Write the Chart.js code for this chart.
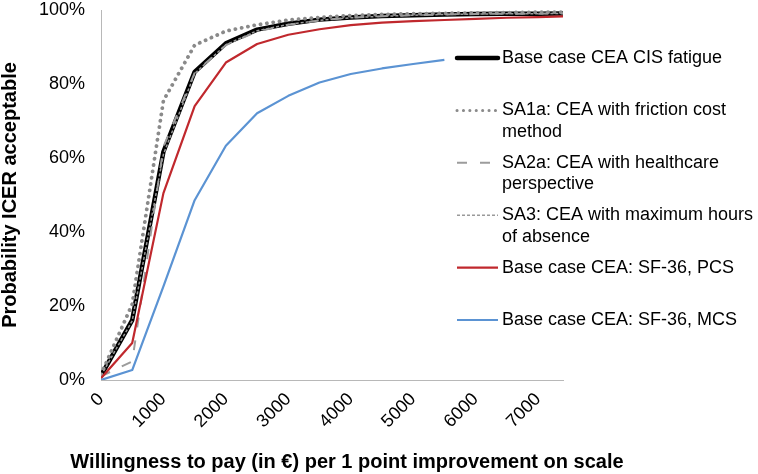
<!DOCTYPE html>
<html>
<head>
<meta charset="utf-8">
<script src="https://cdn.jsdelivr.net/npm/chart.js@4.4.1/dist/chart.umd.min.js"></script>
<style>
  html, body { margin: 0; padding: 0; background: #fff; }
  canvas { display: block; }
</style>
</head>
<body>
<canvas id="ceac" width="758" height="474"></canvas>
<script>
const fontFamily = '"Liberation Sans", Arial, sans-serif'

// willingness to pay (EUR) per 1 point improvement
const wtp = [0, 500, 1000, 1500, 2000, 2500, 3000, 3500, 4000, 4500, 5000, 5500, 6000, 6500, 7000, 7500]
const xTicks = [0, 1000, 2000, 3000, 4000, 5000, 6000, 7000]

// probability ICER acceptable (%)
const baseCIS = [1.2, 16.2, 61.7, 83.3, 91.0, 94.7, 96.3, 97.4, 98.0, 98.4, 98.6, 98.8, 98.9, 99.0, 99.0, 99.1]
const sa1aFriction = [1.5, 20.5, 75.5, 90.5, 94.3, 96.0, 97.3, 98.0, 98.5, 98.8, 99.0, 99.1, 99.2, 99.3, 99.4, 99.4]
const sa2aHealthcare = [1.0, 5.0, 63.0, 83.0, 90.5, 94.2, 96.0, 97.2, 97.9, 98.3, 98.6, 98.8, 98.9, 99.0, 99.0, 99.1]
const sa3MaxHours = [1.2, 16.0, 61.0, 82.8, 90.6, 94.4, 96.1, 97.2, 97.9, 98.3, 98.6, 98.8, 98.9, 99.0, 99.0, 99.1]
const sf36PCS = [0.5, 10.0, 50.5, 74.0, 85.8, 90.8, 93.3, 94.8, 95.9, 96.6, 97.0, 97.3, 97.6, 97.9, 98.1, 98.3]
const sf36MCS = [0, 2.7, 25.3, 48.6, 63.3, 72.1, 76.8, 80.4, 82.7, 84.2, 85.4, 86.5]

const yTicks = [0, 20, 40, 60, 80, 100]

const legendLines = [
    ['Base case CEA CIS fatigue'],
    ['SA1a: CEA with friction cost', 'method'],
    ['SA2a: CEA with healthcare', 'perspective'],
    ['SA3: CEA with maximum hours', 'of absence'],
    ['Base case CEA: SF-36, PCS'],
    ['Base case CEA: SF-36, MCS']
]

const toPoints = arr => arr.map((v, i) => ({x: wtp[i], y: v}))

// legend on the right + x axis title (title is off-centre in the original)
const sideLegend = {
    id: 'sideLegend',
    afterDraw(chart) {
        const ctx = chart.ctx
        ctx.save()
        ctx.font = '18px ' + fontFamily
        ctx.fillStyle = '#000'
        ctx.textBaseline = 'middle'
        legendLines.forEach((lines, i) => {
            const ds = chart.data.datasets[i]
            const y = 58 + i * 52.4
            ctx.beginPath()
            ctx.strokeStyle = ds.borderColor
            ctx.lineWidth = i === 1 ? 3 : ds.borderWidth
            ctx.lineCap = ds.borderCapStyle || 'butt'
            ctx.setLineDash(ds.borderDash || [])
            ctx.moveTo(457, y)
            ctx.lineTo(498, y)
            ctx.stroke()
            ctx.setLineDash([])
            lines.forEach((t, j) => ctx.fillText(t, 502, y + j * 21.7))
        })
        ctx.font = 'bold 20px ' + fontFamily
        ctx.textAlign = 'center'
        ctx.textBaseline = 'alphabetic'
        ctx.fillText('Willingness to pay (in \u20ac) per 1 point improvement on scale', 347, 468)
        ctx.restore()
    }
}

const ceac = new Chart(document.getElementById('ceac'), {
    type: 'line',
    data: {
        datasets: [{
            label: 'Base case CEA CIS fatigue',
            data: toPoints(baseCIS),
            borderColor: '#000000',
            borderWidth: 4.5,
            borderCapStyle: 'round',
            order: 6
        }, {
            label: 'SA1a: CEA with friction cost method',
            data: toPoints(sa1aFriction),
            borderColor: '#8a8a8a',
            borderWidth: 3.8,
            borderDash: [0.1, 6.3],
            borderCapStyle: 'round',
            order: 5
        }, {
            label: 'SA2a: CEA with healthcare perspective',
            data: toPoints(sa2aHealthcare),
            borderColor: '#9c9c9c',
            borderWidth: 2,
            borderDash: [10, 13],
            order: 4
        }, {
            label: 'SA3: CEA with maximum hours of absence',
            data: toPoints(sa3MaxHours),
            borderColor: '#9a9a9a',
            borderWidth: 1.5,
            borderDash: [3, 2],
            order: 3
        }, {
            label: 'Base case CEA: SF-36, PCS',
            data: toPoints(sf36PCS),
            borderColor: '#c0282d',
            borderWidth: 2.2,
            order: 2
        }, {
            label: 'Base case CEA: SF-36, MCS',
            data: toPoints(sf36MCS),
            borderColor: '#5b93d3',
            borderWidth: 2.2,
            order: 1
        }]
    },
    options: {
        responsive: false,
        animation: false,
        devicePixelRatio: 1,
        layout: { padding: { left: 0, top: 10, right: 195, bottom: 0 } },
        elements: {
            point: { radius: 0 },
            line: { tension: 0, borderJoinStyle: 'round' }
        },
        plugins: {
            legend: { display: false },
            tooltip: { enabled: false }
        },
        scales: {
            x: {
                type: 'linear',
                min: 0,
                max: 7400,
                grid: { color: 'rgba(0,0,0,0)', drawTicks: false },
                border: { color: '#b8b8b8', width: 1 },
                afterBuildTicks: s => { s.ticks = xTicks.map(v => ({value: v})) },
                ticks: {
                    autoSkip: false,
                    minRotation: 45,
                    maxRotation: 45,
                    padding: 10,
                    color: '#000',
                    font: { family: fontFamily, size: 18, lineHeight: 1 },
                    callback: v => String(v)
                },
                afterFit: s => { s.height = 94 }
            },
            y: {
                min: 0,
                max: 100,
                grid: { color: 'rgba(0,0,0,0)', drawTicks: false },
                border: { color: '#b8b8b8', width: 1 },
                afterBuildTicks: s => { s.ticks = yTicks.map(v => ({value: v})) },
                ticks: {
                    padding: 16,
                    color: '#000',
                    font: { family: fontFamily, size: 18, lineHeight: 1 },
                    callback: v => v + '%'
                },
                title: {
                    display: true,
                    text: 'Probability ICER acceptable',
                    color: '#000',
                    padding: 0,
                    font: { family: fontFamily, size: 20, weight: 'bold', lineHeight: 1 }
                },
                afterFit: s => { s.width = 101; s.paddingTop = 0; s.paddingBottom = 0 }
            }
        }
    },
    plugins: [sideLegend]
})
</script>
</body>
</html>
